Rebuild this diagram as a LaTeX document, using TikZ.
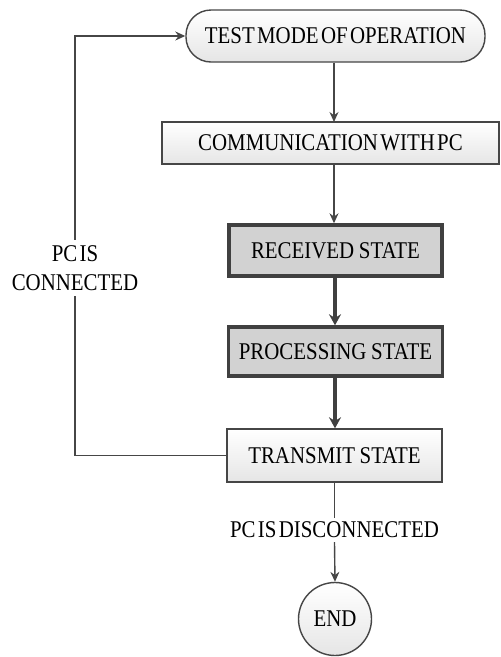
\documentclass[tikz,border=0pt]{standalone}
\usepackage{fontspec}
\setmainfont{Liberation Serif}
\newfontfamily\condserif[FakeStretch=0.87,WordSpace=0.45]{Liberation Serif}
\usetikzlibrary{arrows.meta,shapes.geometric}
\definecolor{lineg}{RGB}{70,70,70}
\definecolor{boxg}{RGB}{210,210,210}
\begin{document}
\begin{tikzpicture}[x=1pt,y=-1pt,
  every node/.style={font=\condserif\fontsize{24}{27}\selectfont, text=black},
  lightbox/.style={draw=lineg, line width=1.4pt, top color=white, bottom color=black!10, inner sep=0pt},
  darkbox/.style={draw=black!75, line width=3.4pt, fill=boxg, inner sep=0pt},
  thinarrow/.style={draw=lineg, line width=1.4pt, -{Stealth[length=10pt,width=9pt]}},
  thickarrow/.style={draw=black!75, line width=3.4pt, -{Stealth[length=11pt,width=12pt]}},
  thinline/.style={draw=lineg, line width=1.4pt},
  lbl/.style={inner sep=0pt, align=center}
]
\useasboundingbox (0,0) rectangle (501,657);
\node[lightbox, rounded corners=25pt, minimum width=299pt, minimum height=52pt] (test) at (335.5,36) {TEST MODE OF OPERATION};
\node[lightbox, minimum width=337pt, minimum height=42pt] (comm) at (330.5,143) {COMMUNICATION WITH PC};
\node[darkbox, minimum width=213pt, minimum height=51pt] (recv) at (335.5,250.5) {RECEIVED \ STATE};
\node[darkbox, minimum width=214pt, minimum height=49pt] (proc) at (335.5,351.5) {PROCESSING \ STATE};
\node[lightbox, minimum width=215pt, minimum height=53pt] (trans) at (334.5,455.5) {TRANSMIT \ STATE};
\node[lbl, minimum height=24pt] (disc) at (334.5,530) {PC IS DISCONNECTED};
\node[lightbox, circle, minimum size=73pt] (endn) at (335,619) {END};
\node[lbl, minimum height=56pt, font=\condserif\fontsize{24}{29}\selectfont] (conn) at (75,268) {PC IS\\CONNECTED};
\coordinate (c1) at (75,455.5);
\coordinate (c2) at (75,36);

\draw[thinarrow] (test.south -| 334,0) -- (334,122);
\draw[thinarrow] (comm.south -| 334,0) -- (recv.north -| 334,0);
\draw[thickarrow] (recv.south -| 335,0) -- (proc.north -| 335,0);
\draw[thickarrow] (proc.south -| 335,0) -- (trans.north -| 335,0);
\draw[thinline] (trans.south -| 334.5,0) -- (disc.north);
\draw[thinarrow] (disc.south) -- (endn.north);
\draw[thinline] (trans.west) -- (c1) -- (conn.south);
\draw[thinarrow] (conn.north) -- (c2) -- (test.west);
\end{tikzpicture}
\end{document}
